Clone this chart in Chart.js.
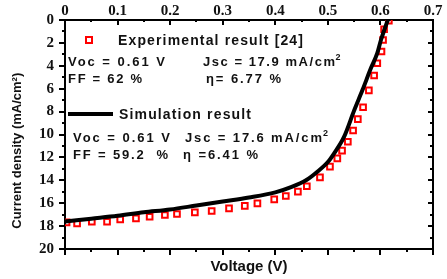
<!DOCTYPE html>
<html lang="en">
<head>
<meta charset="UTF-8">
<title>J-V curve</title>
<script src="https://cdn.jsdelivr.net/npm/chart.js"></script>
<style>
  html, body { margin: 0; padding: 0; background: #fff; }
  #wrap { width: 447px; height: 279px; }
</style>
</head>
<body>
<div id="wrap"><canvas id="jv" width="447" height="279"></canvas></div>
<script>
// Experimental result [24] (voltage V, current density mA/cm2)
const expVoltage = [0.003, 0.023, 0.051, 0.080, 0.105, 0.135, 0.161, 0.190, 0.213, 0.247,
  0.279, 0.312, 0.342, 0.366, 0.398, 0.420, 0.443, 0.460, 0.485, 0.504, 0.518, 0.527,
  0.538, 0.548, 0.557, 0.567, 0.578, 0.588, 0.594, 0.602, 0.605, 0.607, 0.616];
const expCurrent = [17.67, 17.76, 17.62, 17.62, 17.41, 17.32, 17.18, 17.03, 16.94, 16.80,
  16.68, 16.45, 16.24, 16.01, 15.66, 15.37, 14.99, 14.52, 13.74, 12.81, 12.08, 11.41,
  10.63, 9.65, 8.66, 7.62, 6.14, 4.85, 3.78, 2.75, 1.75, 0.81, 0.06];

// Simulation result
const simVoltage = [0, 0.05, 0.10, 0.15, 0.20, 0.25, 0.30, 0.35, 0.40, 0.43, 0.46, 0.48,
  0.50, 0.512, 0.531, 0.55, 0.566, 0.582, 0.594, 0.601, 0.614];
const simCurrent = [17.6, 17.35, 17.1, 16.8, 16.55, 16.2, 15.85, 15.5, 15.05, 14.6, 13.95, 13.25,
  12.4, 11.64, 10.19, 7.9, 6.1, 4.2, 2.9, 1.75, 0];

const xTicks = [0, 0.1, 0.2, 0.3, 0.4, 0.5, 0.6, 0.7];
const yTicks = [0, 2, 4, 6, 8, 10, 12, 14, 16, 18, 20];

const toPoints = (xs, ys) => xs.map((x, i) => ({ x: x, y: ys[i] }));

const sans = '"Liberation Sans", Arial, sans-serif';
const tickFont = { family: '"Liberation Serif", "Times New Roman", serif', size: 15, weight: 'bold' };

// ticks: outward on left/bottom, inward on top/right, minor ones halfway
const tickMarks = {
  id: 'tickMarks',
  afterDraw(chart) {
    const { ctx, chartArea: a } = chart;
    const xs = chart.scales.x, ys = chart.scales.y;
    ctx.save();
    ctx.strokeStyle = '#000';
    ctx.lineWidth = 2;
    ctx.beginPath();
    for (let i = 0; i <= 14; i++) {
      const px = Math.round(xs.getPixelForValue(i * 0.05));
      const major = i % 2 === 0;
      ctx.moveTo(px, a.bottom); ctx.lineTo(px, a.bottom + (major ? 6 : 3));
      ctx.moveTo(px, a.top); ctx.lineTo(px, a.top + (major ? 5 : 2));
    }
    for (let i = 0; i <= 20; i++) {
      const py = Math.round(ys.getPixelForValue(i));
      const major = i % 2 === 0;
      ctx.moveTo(a.left, py); ctx.lineTo(a.left - (major ? 6 : 3), py);
      ctx.moveTo(a.right, py); ctx.lineTo(a.right - (major ? 5 : 3), py);
    }
    ctx.stroke();
    ctx.restore();
  }
};

// legend entries and parameter notes inside the plot
const notes = {
  id: 'notes',
  afterDraw(chart) {
    const { ctx } = chart;
    const exp = chart.data.datasets[0], sim = chart.data.datasets[1];

    // stretch the text to the width it has in the original figure
    const put = (text, x, y, width) => {
      ctx.letterSpacing = '0px';
      const n = [...text].length;
      const natural = ctx.measureText(text).width;
      const sp = Math.max(0, (width - natural) / (n - 1));
      ctx.letterSpacing = sp.toFixed(2) + 'px';
      ctx.fillText(text, x, y);
      return x + natural + sp * n;
    };
    const putSup = (text, x, y, width) => {
      const end = put(text, x, y, width - 6);
      ctx.save();
      ctx.letterSpacing = '0px';
      ctx.font = 'bold 9px ' + sans;
      ctx.fillText('2', end - 1, y - 6);
      ctx.restore();
    };

    ctx.save();
    ctx.fillStyle = '#111';
    ctx.textBaseline = 'alphabetic';
    ctx.font = 'bold 14px ' + sans;

    // experimental legend
    ctx.strokeStyle = exp.borderColor;
    ctx.lineWidth = exp.borderWidth;
    ctx.strokeRect(86, 37, 6, 6);
    put('Experimental result [24]', 118, 45, 185);

    // simulation legend
    ctx.fillStyle = sim.borderColor;
    ctx.fillRect(68, 112, 45, 4);
    ctx.fillStyle = '#111';
    put('Simulation result', 119, 119, 132);

    ctx.font = 'bold 13px ' + sans;
    put('Voc = 0.61 V', 68, 66, 97);
    putSup('Jsc = 17.9 mA/cm', 203, 66, 138);
    put('FF = 62 %', 68, 83, 74);
    put('\u03b7= 6.77 %', 206, 83, 75);

    put('Voc = 0.61 V', 73, 142, 97);
    putSup('Jsc = 17.6 mA/cm', 185, 142, 143);
    put('FF = 59.2  %', 73, 159, 95);
    put('\u03b7 =6.41 %', 183, 159, 75);
    ctx.restore();
  }
};

const border = { display: true, color: '#000', width: 2 };

new Chart(document.getElementById('jv'), {
  type: 'scatter',
  data: {
    datasets: [
      {
        label: 'Experimental result [24]',
        data: toPoints(expVoltage, expCurrent),
        showLine: false,
        pointStyle: 'rect',
        pointRadius: 4,
        borderColor: '#ff0000',
        backgroundColor: 'rgba(0,0,0,0)',
        borderWidth: 2,
        order: 2
      },
      {
        label: 'Simulation result',
        data: toPoints(simVoltage, simCurrent),
        showLine: true,
        pointRadius: 0,
        borderColor: '#000',
        borderWidth: 4,
        cubicInterpolationMode: 'monotone',
        order: 1
      }
    ]
  },
  options: {
    responsive: false,
    animation: false,
    devicePixelRatio: 1,
    layout: { padding: 0 },
    plugins: { legend: { display: false }, tooltip: { enabled: false } },
    scales: {
      x: {
        type: 'linear', position: 'top', min: 0, max: 0.7,
        afterBuildTicks: s => { s.ticks = xTicks.map(v => ({ value: v })); },
        ticks: { font: tickFont, color: '#111', padding: 0, maxRotation: 0,
                 callback: v => (v === 0 ? '0' : v.toFixed(1)) },
        grid: { display: false, drawTicks: false },
        border: border,
        afterFit: s => { s.height = 20; }
      },
      xb: {
        type: 'linear', position: 'bottom', min: 0, max: 0.7,
        ticks: { display: false },
        grid: { display: false, drawTicks: false },
        border: border,
        title: { display: true, text: 'Voltage (V)', color: '#111',
                 font: { family: sans, size: 15, weight: 'bold' },
                 padding: { top: 0, bottom: 3 } },
        afterFit: s => { s.height = 30; }
      },
      y: {
        type: 'linear', position: 'left', min: 0, max: 20, reverse: true,
        afterBuildTicks: s => { s.ticks = yTicks.map(v => ({ value: v })); },
        ticks: { font: tickFont, color: '#111', padding: 11 },
        grid: { display: false, drawTicks: false },
        border: border,
        // trailing spaces push the centred title down as in the original
        title: { display: true, text: 'Current density (mA/cm\u00b2)         ', color: '#111',
                 font: { family: sans, size: 13, weight: 'bold' },
                 padding: { top: 10, bottom: 0 } },
        afterFit: s => { s.width = 65; }
      },
      yr: {
        type: 'linear', position: 'right', min: 0, max: 20, reverse: true,
        ticks: { display: false },
        grid: { display: false, drawTicks: false },
        border: border,
        afterFit: s => { s.width = 14; }
      }
    }
  },
  plugins: [tickMarks, notes]
});
</script>
</body>
</html>
